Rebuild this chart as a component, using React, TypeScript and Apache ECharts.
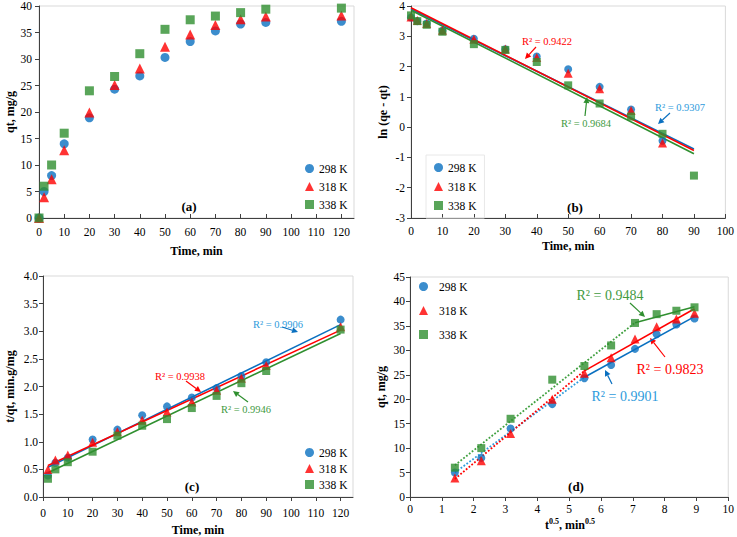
import React, { useEffect, useRef } from "react";
import * as echarts from "echarts";

// ---------- data ----------
// (a) kinetics qt vs time
const T_A = [0, 2, 5, 10, 20, 30, 40, 50, 60, 70, 80, 90, 120];
const QA_298 = [0, 5.0, 8.0, 14.0, 18.9, 24.3, 26.8, 30.3, 33.3, 35.3, 36.6, 36.9, 37.1];
const QA_318 = [0, 3.9, 7.3, 12.8, 19.9, 25.1, 28.2, 32.3, 34.6, 36.4, 37.5, 38.0, 38.2];
const QA_338 = [0, 6.0, 10.0, 16.0, 24.0, 26.7, 31.0, 35.6, 37.4, 38.1, 38.75, 39.4, 39.6];

// (b) pseudo-first-order ln(qe - qt)
const T_B = [0, 2, 5, 10, 20, 30, 40, 50, 60, 70, 80, 90];
const LB_298 = [3.62, 3.50, 3.42, 3.18, 2.92, 2.57, 2.33, 1.91, 1.33, 0.58, -0.45];
const LB_318 = [3.64, 3.52, 3.42, 3.20, 2.90, 2.58, 2.30, 1.78, 1.27, 0.55, -0.52];
const LB_338 = [3.69, 3.50, 3.38, 3.15, 2.74, 2.55, 2.15, 1.38, 0.78, 0.35, -0.22, -1.60];
const FIT_B_298 = [[0, 3.90], [90, -0.72]];
const FIT_B_318 = [[0, 3.94], [90, -0.77]];
const FIT_B_338 = [[0, 3.86], [90, -0.88]];

// (c) pseudo-second-order t/qt
const T_C = [2, 5, 10, 20, 30, 40, 50, 60, 70, 80, 90, 120];
const TC_298 = [0.39, 0.62, 0.71, 1.04, 1.22, 1.48, 1.64, 1.80, 1.97, 2.19, 2.44, 3.21];
const TC_318 = [0.50, 0.67, 0.76, 0.99, 1.18, 1.39, 1.54, 1.72, 1.93, 2.15, 2.38, 3.08];
const TC_338 = [0.33, 0.50, 0.63, 0.82, 1.11, 1.29, 1.41, 1.61, 1.83, 2.06, 2.28, 3.03];
const FIT_C_298 = [[2, 0.54], [120, 3.12]];
const FIT_C_318 = [[2, 0.57], [120, 3.02]];
const FIT_C_338 = [[2, 0.44], [120, 2.96]];

// (d) intraparticle diffusion qt vs t^0.5
const S_D = [1.41, 2.24, 3.16, 4.47, 5.48, 6.32, 7.07, 7.75, 8.37, 8.94];
const QD_298 = [5.0, 8.0, 14.0, 19.0, 24.3, 27.0, 30.3, 33.3, 35.3, 36.5];
const QD_318 = [3.9, 7.4, 13.0, 20.0, 25.3, 28.5, 32.3, 34.8, 36.4, 37.6];
const QD_338 = [6.0, 10.0, 16.0, 24.0, 26.8, 31.0, 35.6, 37.4, 38.1, 38.8];
const DOT_D_298 = [[1.41, 5.0], [5.48, 24.5]];
const DOT_D_318 = [[1.41, 3.7], [5.48, 25.8]];
const DOT_D_338 = [[1.41, 6.5], [7.07, 35.65]];
const SOL_D_298 = [[5.48, 24.5], [8.94, 36.9]];
const SOL_D_318 = [[5.48, 25.8], [8.94, 38.5]];
const SOL_D_338 = [[7.07, 35.65], [8.94, 38.9]];

const NAMES = ["298 K", "318 K", "338 K"];
const X_TICKS_120 = [0, 10, 20, 30, 40, 50, 60, 70, 80, 90, 100, 110, 120];

// ---------- styles ----------
const BLUE = "#0A70C0";
const RED = "#FF0000";
const GREEN = "#2F8F2F";
const BLUE_T = "#2E9BDC";
const GREEN_T = "#3F9A3F";
const FONT = "Liberation Serif";
const AXIS_C = "#404040";
const SYMS = ["circle", "triangle", "rect"];
const COLS = [BLUE, RED, GREEN];

const zip = (xs: number[], ys: number[]) => ys.map((y, i) => [xs[i], y]);

function arrow(x1: number, y1: number, x2: number, y2: number, color: string) {
  const dx = x2 - x1, dy = y2 - y1;
  const L = Math.hypot(dx, dy);
  const ux = dx / L, uy = dy / L;
  const hl = 6, hw = 3;
  const bx = x2 - ux * hl, by = y2 - uy * hl;
  return [
    { type: "line", silent: true, shape: { x1, y1, x2: bx, y2: by }, style: { stroke: color, lineWidth: 1.2 } },
    {
      type: "polygon", silent: true,
      shape: { points: [[x2, y2], [bx - uy * hw, by + ux * hw], [bx + uy * hw, by - ux * hw]] },
      style: { fill: color },
    },
  ];
}

function label(x: number, y: number, text: string, color: string, size: number, bold = false) {
  return {
    type: "text", x, y, silent: true,
    style: {
      text, fill: color, fontSize: size, fontFamily: FONT, fontWeight: bold ? "bold" : "normal",
      align: "center", verticalAlign: "middle",
    },
  };
}

function xAxis(gi: number, min: number, max: number, interval: number, opts: any) {
  return {
    type: "value", gridIndex: gi, min, max, interval,
    name: opts.name, nameLocation: "middle", nameGap: opts.nameGap,
    nameTextStyle: { fontFamily: FONT, fontWeight: "bold", fontSize: 12, color: "#000" },
    axisLine: { show: true, onZero: false, lineStyle: { color: AXIS_C, width: 1 } },
    axisTick: { show: true, inside: opts.tickInside, length: 4, lineStyle: { color: AXIS_C }, customValues: opts.ticks },
    axisLabel: {
      fontFamily: FONT, fontSize: 11.5, color: "#000", margin: opts.margin,
      customValues: opts.ticks,
      formatter: opts.fmt,
    },
    splitLine: { show: false },
  };
}

function yAxis(gi: number, min: number, max: number, interval: number, opts: any) {
  return {
    type: "value", gridIndex: gi, min, max, interval,
    name: opts.name, nameLocation: "middle", nameGap: opts.nameGap, nameRotate: 90,
    nameTextStyle: { fontFamily: FONT, fontWeight: "bold", fontSize: 12, color: "#000" },
    axisLine: { show: true, onZero: false, lineStyle: { color: AXIS_C, width: 1 } },
    axisTick: { show: true, inside: false, length: 4, lineStyle: { color: AXIS_C } },
    axisLabel: { fontFamily: FONT, fontSize: 11.5, color: "#000", margin: opts.margin, formatter: opts.fmt },
    splitLine: { show: false },
  };
}

function scatterSet(gi: number, sets: number[][][], size: number) {
  return sets.map((d, i) => ({
    type: "scatter", name: NAMES[i], xAxisIndex: gi, yAxisIndex: gi,
    data: d, symbol: SYMS[i], symbolSize: i === 1 ? size + 1 : size,
    itemStyle: { color: COLS[i] }, z: 3 + i,
  }));
}

function fitLine(gi: number, data: number[][], color: string, dotted = false, width = 1.6) {
  return {
    type: "line", name: "fit", xAxisIndex: gi, yAxisIndex: gi, data,
    showSymbol: false, symbol: "none", silent: true, z: 2,
    lineStyle: { color, width, type: dotted ? "dotted" : "solid" },
  };
}

function legend(left: number, top: number, gap: number, extra: any = {}, textPad = 0) {
  return {
    data: NAMES.map((n, i) => ({ name: n, icon: SYMS[i], itemStyle: { color: COLS[i] } })),
    orient: "vertical", left, top, itemGap: gap,
    itemWidth: 9, itemHeight: 9, selectedMode: false,
    textStyle: { fontFamily: FONT, fontSize: 11.5, color: "#000", lineHeight: 13, padding: [0, 0, 0, textPad] },
    ...extra,
  };
}

export default function App() {
  const ref = useRef<HTMLDivElement>(null);
  useEffect(() => {
    if (!ref.current) return;
    const chart = echarts.init(ref.current, undefined, { renderer: "svg" });
    const gridBase = { show: true, borderColor: "#d9d9d9", borderWidth: 1, backgroundColor: "transparent" };
    const option: any = {
      animation: false,
      backgroundColor: "#fff",
      textStyle: { fontFamily: FONT },
      grid: [
        { ...gridBase, left: 39, top: 5, width: 315, height: 213 },
        { ...gridBase, left: 411, top: 6, width: 317, height: 212 },
        { ...gridBase, left: 43, top: 276, width: 310, height: 221 },
        { ...gridBase, left: 410, top: 277, width: 320, height: 220 },
      ],
      xAxis: [
        xAxis(0, 0, 125, 10, { name: "Time, min", nameGap: 27, tickInside: true, margin: 8, ticks: X_TICKS_120 }),
        xAxis(1, 0, 100, 10, { name: "Time, min", nameGap: 22, tickInside: true, margin: 7 }),
        xAxis(2, 0, 125, 10, { name: "Time, min", nameGap: 27, tickInside: false, margin: 10, ticks: X_TICKS_120 }),
        xAxis(3, 0, 10, 1, { name: "", nameGap: 0, tickInside: false, margin: 6 }),
      ],
      yAxis: [
        yAxis(0, 0, 40, 5, { name: "qt, mg/g", nameGap: 23, margin: 7 }),
        yAxis(1, -3, 4, 1, { name: "ln (qe - qt)", nameGap: 22, margin: 6 }),
        yAxis(2, 0, 4, 0.5, { name: "t/qt, min.g/mg", nameGap: 27, margin: 5, fmt: (v: number) => v.toFixed(1) }),
        yAxis(3, 0, 45, 5, { name: "qt, mg/g", nameGap: 23, margin: 5 }),
      ],
      legend: [
        legend(300, 157, 5),
        legend(426, 155, 6, { padding: [6, 8, 6, 8], borderWidth: 1, borderColor: "#e8e8e8" }),
        legend(300, 441, 3),
        legend(414, 275, 11, {}, 6),
      ],
      series: [
        ...scatterSet(0, [zip(T_A, QA_298), zip(T_A, QA_318), zip(T_A, QA_338)], 9),

        fitLine(1, FIT_B_298, BLUE),
        fitLine(1, FIT_B_318, RED),
        fitLine(1, FIT_B_338, GREEN),
        ...scatterSet(1, [zip(T_B, LB_298), zip(T_B, LB_318), zip(T_B, LB_338)], 8),

        fitLine(2, FIT_C_298, BLUE),
        fitLine(2, FIT_C_318, RED),
        fitLine(2, FIT_C_338, GREEN),
        ...scatterSet(2, [zip(T_C, TC_298), zip(T_C, TC_318), zip(T_C, TC_338)], 8),

        fitLine(3, DOT_D_298, "#2E9BDC", true, 1.8),
        fitLine(3, DOT_D_318, RED, true, 1.8),
        fitLine(3, DOT_D_338, "#3FA03F", true, 1.8),
        fitLine(3, SOL_D_298, BLUE),
        fitLine(3, SOL_D_318, RED),
        fitLine(3, SOL_D_338, GREEN),
        ...scatterSet(3, [zip(S_D, QD_298), zip(S_D, QD_318), zip(S_D, QD_338)], 8),
      ],
      graphic: [
        label(189, 206, "(a)", "#000", 13, true),
        label(575, 207, "(b)", "#000", 13, true),
        label(192, 486, "(c)", "#000", 13, true),
        label(576, 486, "(d)", "#000", 13, true),

        {
          type: "text", x: 570, y: 525, silent: true,
          style: {
            text: "{b|t}{s|0.5}{b|, min}{s|0.5}",
            align: "center", verticalAlign: "middle",
            rich: {
              b: { fontFamily: FONT, fontWeight: "bold", fontSize: 12, fill: "#000", lineHeight: 15, verticalAlign: "middle" },
              s: { fontFamily: FONT, fontWeight: "bold", fontSize: 8, fill: "#000", lineHeight: 8, verticalAlign: "top" },
            },
          },
        },

        label(547, 41, "R² = 0.9422", RED, 10.5),
        ...arrow(536, 47, 525, 59, RED),
        label(680, 107, "R² = 0.9307", BLUE_T, 10.5),
        ...arrow(670, 113, 658, 124, BLUE),
        label(586, 123, "R² = 0.9684", GREEN_T, 10.5),
        ...arrow(585, 116, 587, 97, GREEN),

        label(278, 324, "R² = 0.9906", BLUE_T, 10.5),
        ...arrow(282, 327, 298, 332, BLUE),
        label(180, 376, "R² = 0.9938", RED, 10.5),
        ...arrow(186, 381, 201, 392, RED),
        label(246, 409, "R² = 0.9946", GREEN_T, 10.5),
        ...arrow(248, 402, 233, 391, GREEN),

        label(610, 295, "R² = 0.9484", GREEN_T, 14),
        ...arrow(630, 303, 645, 317, GREEN),
        label(670, 369, "R² = 0.9823", RED, 14),
        ...arrow(665, 357, 650, 338, RED),
        label(625, 396, "R² = 0.9901", BLUE_T, 14),
        ...arrow(612, 384, 605, 370, BLUE),
      ],
    };
    chart.setOption(option);
    return () => chart.dispose();
  }, []);
  return (
    <div
      ref={ref}
      style={{ position: "fixed", left: 0, top: 0, width: 737, height: 537, background: "#fff" }}
    />
  );
}
